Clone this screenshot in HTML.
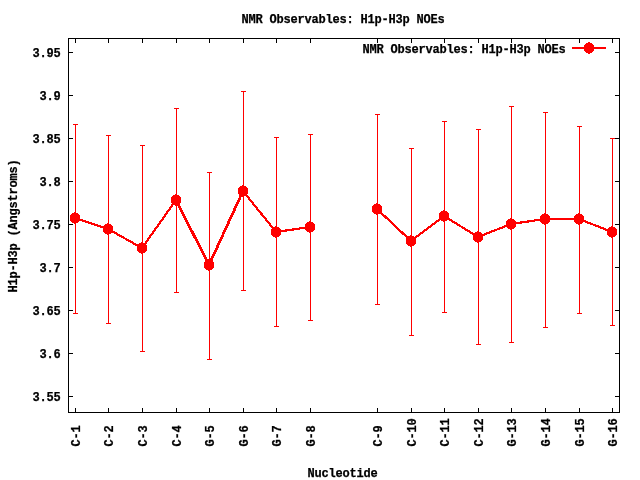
<!DOCTYPE html>
<html><head><meta charset="utf-8"><title>NMR Observables: H1p-H3p NOEs</title>
<style>
html,body{margin:0;padding:0;background:#fff;}
svg{display:block}
text{letter-spacing:-0.2012px;stroke:#000;stroke-width:0.25px;font-family:"Liberation Mono",monospace;font-weight:bold;font-size:12px;fill:#000;white-space:pre}
</style></head><body>
<svg width="640" height="480" viewBox="0 0 640 480">
<rect width="640" height="480" fill="#fff"/>
<g shape-rendering="crispEdges" fill="#000">
<rect x="68" y="38" width="552" height="1"/><rect x="68" y="412" width="552" height="1"/><rect x="68" y="38" width="1" height="375"/><rect x="619" y="38" width="1" height="375"/>
<rect x="69" y="52" width="4" height="1"/><rect x="615" y="52" width="4" height="1"/>
<rect x="69" y="95" width="4" height="1"/><rect x="615" y="95" width="4" height="1"/>
<rect x="69" y="138" width="4" height="1"/><rect x="615" y="138" width="4" height="1"/>
<rect x="69" y="181" width="4" height="1"/><rect x="615" y="181" width="4" height="1"/>
<rect x="69" y="224" width="4" height="1"/><rect x="615" y="224" width="4" height="1"/>
<rect x="69" y="267" width="4" height="1"/><rect x="615" y="267" width="4" height="1"/>
<rect x="69" y="310" width="4" height="1"/><rect x="615" y="310" width="4" height="1"/>
<rect x="69" y="353" width="4" height="1"/><rect x="615" y="353" width="4" height="1"/>
<rect x="69" y="396" width="4" height="1"/><rect x="615" y="396" width="4" height="1"/>
<rect x="75" y="39" width="1" height="4"/><rect x="75" y="408" width="1" height="4"/>
<rect x="108" y="39" width="1" height="4"/><rect x="108" y="408" width="1" height="4"/>
<rect x="142" y="39" width="1" height="4"/><rect x="142" y="408" width="1" height="4"/>
<rect x="176" y="39" width="1" height="4"/><rect x="176" y="408" width="1" height="4"/>
<rect x="209" y="39" width="1" height="4"/><rect x="209" y="408" width="1" height="4"/>
<rect x="243" y="39" width="1" height="4"/><rect x="243" y="408" width="1" height="4"/>
<rect x="276" y="39" width="1" height="4"/><rect x="276" y="408" width="1" height="4"/>
<rect x="310" y="39" width="1" height="4"/><rect x="310" y="408" width="1" height="4"/>
<rect x="377" y="39" width="1" height="4"/><rect x="377" y="408" width="1" height="4"/>
<rect x="411" y="39" width="1" height="4"/><rect x="411" y="408" width="1" height="4"/>
<rect x="444" y="39" width="1" height="4"/><rect x="444" y="408" width="1" height="4"/>
<rect x="478" y="39" width="1" height="4"/><rect x="478" y="408" width="1" height="4"/>
<rect x="511" y="39" width="1" height="4"/><rect x="511" y="408" width="1" height="4"/>
<rect x="545" y="39" width="1" height="4"/><rect x="545" y="408" width="1" height="4"/>
<rect x="579" y="39" width="1" height="4"/><rect x="579" y="408" width="1" height="4"/>
<rect x="612" y="39" width="1" height="4"/><rect x="612" y="408" width="1" height="4"/>
</g>
<g style="will-change:transform">
<text transform="translate(241.5,23) scale(1,1)">NMR Observables: H1p-H3p NOEs</text>
<text transform="translate(362.5,53) scale(1,1)">NMR Observables: H1p-H3p NOEs</text>
<text transform="translate(307.5,477) scale(1,1)">Nucleotide</text>
<text transform="translate(32.5,57) scale(1,1)">3.95</text>
<text transform="translate(39.5,100) scale(1,1)">3.9</text>
<text transform="translate(32.5,143) scale(1,1)">3.85</text>
<text transform="translate(39.5,186) scale(1,1)">3.8</text>
<text transform="translate(32.5,229) scale(1,1)">3.75</text>
<text transform="translate(39.5,272) scale(1,1)">3.7</text>
<text transform="translate(32.5,315) scale(1,1)">3.65</text>
<text transform="translate(39.5,358) scale(1,1)">3.6</text>
<text transform="translate(32.5,401) scale(1,1)">3.55</text>
<text transform="translate(17,292.5) rotate(-90) scale(1,1)">H1p-H3p (Angstroms)</text>
<text transform="translate(80,446.5) rotate(-90) scale(1,1)">C-1</text>
<text transform="translate(113,446.5) rotate(-90) scale(1,1)">C-2</text>
<text transform="translate(147,446.5) rotate(-90) scale(1,1)">C-3</text>
<text transform="translate(181,446.5) rotate(-90) scale(1,1)">C-4</text>
<text transform="translate(214,446.5) rotate(-90) scale(1,1)">G-5</text>
<text transform="translate(248,446.5) rotate(-90) scale(1,1)">G-6</text>
<text transform="translate(281,446.5) rotate(-90) scale(1,1)">G-7</text>
<text transform="translate(315,446.5) rotate(-90) scale(1,1)">G-8</text>
<text transform="translate(382,446.5) rotate(-90) scale(1,1)">C-9</text>
<text transform="translate(416,446.5) rotate(-90) scale(1,1)">C-10</text>
<text transform="translate(449,446.5) rotate(-90) scale(1,1)">C-11</text>
<text transform="translate(483,446.5) rotate(-90) scale(1,1)">C-12</text>
<text transform="translate(516,446.5) rotate(-90) scale(1,1)">G-13</text>
<text transform="translate(550,446.5) rotate(-90) scale(1,1)">G-14</text>
<text transform="translate(584,446.5) rotate(-90) scale(1,1)">G-15</text>
<text transform="translate(617,446.5) rotate(-90) scale(1,1)">G-16</text>
</g>
<g shape-rendering="crispEdges" fill="#f00" stroke="none">
<rect x="75" y="124" width="1" height="190"/><rect x="73" y="124" width="5" height="1"/><rect x="73" y="313" width="5" height="1"/>
<rect x="108" y="135" width="1" height="189"/><rect x="106" y="135" width="5" height="1"/><rect x="106" y="323" width="5" height="1"/>
<rect x="142" y="145" width="1" height="207"/><rect x="140" y="145" width="5" height="1"/><rect x="140" y="351" width="5" height="1"/>
<rect x="176" y="108" width="1" height="185"/><rect x="174" y="108" width="5" height="1"/><rect x="174" y="292" width="5" height="1"/>
<rect x="209" y="172" width="1" height="188"/><rect x="207" y="172" width="5" height="1"/><rect x="207" y="359" width="5" height="1"/>
<rect x="243" y="91" width="1" height="200"/><rect x="241" y="91" width="5" height="1"/><rect x="241" y="290" width="5" height="1"/>
<rect x="276" y="137" width="1" height="190"/><rect x="274" y="137" width="5" height="1"/><rect x="274" y="326" width="5" height="1"/>
<rect x="310" y="134" width="1" height="187"/><rect x="308" y="134" width="5" height="1"/><rect x="308" y="320" width="5" height="1"/>
<rect x="377" y="114" width="1" height="191"/><rect x="375" y="114" width="5" height="1"/><rect x="375" y="304" width="5" height="1"/>
<rect x="411" y="148" width="1" height="188"/><rect x="409" y="148" width="5" height="1"/><rect x="409" y="335" width="5" height="1"/>
<rect x="444" y="121" width="1" height="192"/><rect x="442" y="121" width="5" height="1"/><rect x="442" y="312" width="5" height="1"/>
<rect x="478" y="129" width="1" height="216"/><rect x="476" y="129" width="5" height="1"/><rect x="476" y="344" width="5" height="1"/>
<rect x="511" y="106" width="1" height="237"/><rect x="509" y="106" width="5" height="1"/><rect x="509" y="342" width="5" height="1"/>
<rect x="545" y="112" width="1" height="216"/><rect x="543" y="112" width="5" height="1"/><rect x="543" y="327" width="5" height="1"/>
<rect x="579" y="126" width="1" height="188"/><rect x="577" y="126" width="5" height="1"/><rect x="577" y="313" width="5" height="1"/>
<rect x="612" y="138" width="1" height="188"/><rect x="610" y="138" width="5" height="1"/><rect x="610" y="325" width="5" height="1"/>
<polygon points="76,212 76,213 78,213 78,214 79,214 79,215 80,215 80,216 80,216 80,217 80,217 80,218 80,218 80,219 80,219 80,220 80,220 80,221 79,221 79,222 78,222 78,223 76,223 76,224 74,224 74,223 72,223 72,222 71,222 71,221 70,221 70,220 70,220 70,219 70,219 70,218 70,218 70,217 70,217 70,216 70,216 70,215 71,215 71,214 72,214 72,213 74,213 74,212"/>
<polygon points="109,223 109,224 111,224 111,225 112,225 112,226 113,226 113,227 113,227 113,228 113,228 113,229 113,229 113,230 113,230 113,231 113,231 113,232 112,232 112,233 111,233 111,234 109,234 109,235 107,235 107,234 105,234 105,233 104,233 104,232 103,232 103,231 103,231 103,230 103,230 103,229 103,229 103,228 103,228 103,227 103,227 103,226 104,226 104,225 105,225 105,224 107,224 107,223"/>
<polygon points="143,242 143,243 145,243 145,244 146,244 146,245 147,245 147,246 147,246 147,247 147,247 147,248 147,248 147,249 147,249 147,250 147,250 147,251 146,251 146,252 145,252 145,253 143,253 143,254 141,254 141,253 139,253 139,252 138,252 138,251 137,251 137,250 137,250 137,249 137,249 137,248 137,248 137,247 137,247 137,246 137,246 137,245 138,245 138,244 139,244 139,243 141,243 141,242"/>
<polygon points="177,194 177,195 179,195 179,196 180,196 180,197 181,197 181,198 181,198 181,199 181,199 181,200 181,200 181,201 181,201 181,202 181,202 181,203 180,203 180,204 179,204 179,205 177,205 177,206 175,206 175,205 173,205 173,204 172,204 172,203 171,203 171,202 171,202 171,201 171,201 171,200 171,200 171,199 171,199 171,198 171,198 171,197 172,197 172,196 173,196 173,195 175,195 175,194"/>
<polygon points="210,259 210,260 212,260 212,261 213,261 213,262 214,262 214,263 214,263 214,264 214,264 214,265 214,265 214,266 214,266 214,267 214,267 214,268 213,268 213,269 212,269 212,270 210,270 210,271 208,271 208,270 206,270 206,269 205,269 205,268 204,268 204,267 204,267 204,266 204,266 204,265 204,265 204,264 204,264 204,263 204,263 204,262 205,262 205,261 206,261 206,260 208,260 208,259"/>
<polygon points="244,185 244,186 246,186 246,187 247,187 247,188 248,188 248,189 248,189 248,190 248,190 248,191 248,191 248,192 248,192 248,193 248,193 248,194 247,194 247,195 246,195 246,196 244,196 244,197 242,197 242,196 240,196 240,195 239,195 239,194 238,194 238,193 238,193 238,192 238,192 238,191 238,191 238,190 238,190 238,189 238,189 238,188 239,188 239,187 240,187 240,186 242,186 242,185"/>
<polygon points="277,226 277,227 279,227 279,228 280,228 280,229 281,229 281,230 281,230 281,231 281,231 281,232 281,232 281,233 281,233 281,234 281,234 281,235 280,235 280,236 279,236 279,237 277,237 277,238 275,238 275,237 273,237 273,236 272,236 272,235 271,235 271,234 271,234 271,233 271,233 271,232 271,232 271,231 271,231 271,230 271,230 271,229 272,229 272,228 273,228 273,227 275,227 275,226"/>
<polygon points="311,221 311,222 313,222 313,223 314,223 314,224 315,224 315,225 315,225 315,226 315,226 315,227 315,227 315,228 315,228 315,229 315,229 315,230 314,230 314,231 313,231 313,232 311,232 311,233 309,233 309,232 307,232 307,231 306,231 306,230 305,230 305,229 305,229 305,228 305,228 305,227 305,227 305,226 305,226 305,225 305,225 305,224 306,224 306,223 307,223 307,222 309,222 309,221"/>
<polygon points="378,203 378,204 380,204 380,205 381,205 381,206 382,206 382,207 382,207 382,208 382,208 382,209 382,209 382,210 382,210 382,211 382,211 382,212 381,212 381,213 380,213 380,214 378,214 378,215 376,215 376,214 374,214 374,213 373,213 373,212 372,212 372,211 372,211 372,210 372,210 372,209 372,209 372,208 372,208 372,207 372,207 372,206 373,206 373,205 374,205 374,204 376,204 376,203"/>
<polygon points="412,235 412,236 414,236 414,237 415,237 415,238 416,238 416,239 416,239 416,240 416,240 416,241 416,241 416,242 416,242 416,243 416,243 416,244 415,244 415,245 414,245 414,246 412,246 412,247 410,247 410,246 408,246 408,245 407,245 407,244 406,244 406,243 406,243 406,242 406,242 406,241 406,241 406,240 406,240 406,239 406,239 406,238 407,238 407,237 408,237 408,236 410,236 410,235"/>
<polygon points="445,210 445,211 447,211 447,212 448,212 448,213 449,213 449,214 449,214 449,215 449,215 449,216 449,216 449,217 449,217 449,218 449,218 449,219 448,219 448,220 447,220 447,221 445,221 445,222 443,222 443,221 441,221 441,220 440,220 440,219 439,219 439,218 439,218 439,217 439,217 439,216 439,216 439,215 439,215 439,214 439,214 439,213 440,213 440,212 441,212 441,211 443,211 443,210"/>
<polygon points="479,231 479,232 481,232 481,233 482,233 482,234 483,234 483,235 483,235 483,236 483,236 483,237 483,237 483,238 483,238 483,239 483,239 483,240 482,240 482,241 481,241 481,242 479,242 479,243 477,243 477,242 475,242 475,241 474,241 474,240 473,240 473,239 473,239 473,238 473,238 473,237 473,237 473,236 473,236 473,235 473,235 473,234 474,234 474,233 475,233 475,232 477,232 477,231"/>
<polygon points="512,218 512,219 514,219 514,220 515,220 515,221 516,221 516,222 516,222 516,223 516,223 516,224 516,224 516,225 516,225 516,226 516,226 516,227 515,227 515,228 514,228 514,229 512,229 512,230 510,230 510,229 508,229 508,228 507,228 507,227 506,227 506,226 506,226 506,225 506,225 506,224 506,224 506,223 506,223 506,222 506,222 506,221 507,221 507,220 508,220 508,219 510,219 510,218"/>
<polygon points="546,213 546,214 548,214 548,215 549,215 549,216 550,216 550,217 550,217 550,218 550,218 550,219 550,219 550,220 550,220 550,221 550,221 550,222 549,222 549,223 548,223 548,224 546,224 546,225 544,225 544,224 542,224 542,223 541,223 541,222 540,222 540,221 540,221 540,220 540,220 540,219 540,219 540,218 540,218 540,217 540,217 540,216 541,216 541,215 542,215 542,214 544,214 544,213"/>
<polygon points="580,213 580,214 582,214 582,215 583,215 583,216 584,216 584,217 584,217 584,218 584,218 584,219 584,219 584,220 584,220 584,221 584,221 584,222 583,222 583,223 582,223 582,224 580,224 580,225 578,225 578,224 576,224 576,223 575,223 575,222 574,222 574,221 574,221 574,220 574,220 574,219 574,219 574,218 574,218 574,217 574,217 574,216 575,216 575,215 576,215 576,214 578,214 578,213"/>
<polygon points="613,226 613,227 615,227 615,228 616,228 616,229 617,229 617,230 617,230 617,231 617,231 617,232 617,232 617,233 617,233 617,234 617,234 617,235 616,235 616,236 615,236 615,237 613,237 613,238 611,238 611,237 609,237 609,236 608,236 608,235 607,235 607,234 607,234 607,233 607,233 607,232 607,232 607,231 607,231 607,230 607,230 607,229 608,229 608,228 609,228 609,227 611,227 611,226"/>
<polygon points="590,42 590,43 592,43 592,44 593,44 593,45 594,45 594,46 594,46 594,47 594,47 594,48 594,48 594,49 594,49 594,50 594,50 594,51 593,51 593,52 592,52 592,53 590,53 590,54 588,54 588,53 586,53 586,52 585,52 585,51 584,51 584,50 584,50 584,49 584,49 584,48 584,48 584,47 584,47 584,46 584,46 584,45 585,45 585,44 586,44 586,43 588,43 588,42"/>
<rect x="572" y="47" width="34" height="2"/>
</g>
<g shape-rendering="crispEdges" fill="none" stroke="#f00" stroke-linecap="butt">
<line x1="75" y1="218" x2="108" y2="229" stroke-width="2.2"/>
<line x1="108" y1="229" x2="142" y2="248" stroke-width="2.2"/>
<line x1="142" y1="248" x2="176" y2="200" stroke-width="2.2"/>
<line x1="176" y1="200" x2="209" y2="265" stroke-width="2.7"/>
<line x1="209" y1="265" x2="243" y2="191" stroke-width="2.7"/>
<line x1="243" y1="191" x2="276" y2="232" stroke-width="2.2"/>
<line x1="276" y1="232" x2="310" y2="227" stroke-width="2.2"/>
<line x1="377" y1="209" x2="411" y2="241" stroke-width="2.2"/>
<line x1="411" y1="241" x2="444" y2="216" stroke-width="2.2"/>
<line x1="444" y1="216" x2="478" y2="237" stroke-width="2.2"/>
<line x1="478" y1="237" x2="511" y2="224" stroke-width="2.2"/>
<line x1="511" y1="224" x2="545" y2="219" stroke-width="2.2"/>
<rect x="545" y="218" width="34" height="2" fill="#f00" stroke="none"/>
<line x1="579" y1="219" x2="612" y2="232" stroke-width="2.2"/>
</g>
</svg>
</body></html>
